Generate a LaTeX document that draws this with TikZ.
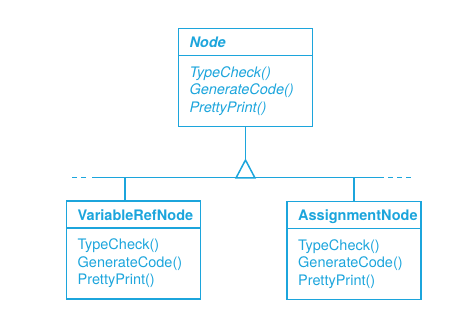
\documentclass[tikz,border=0pt]{standalone}
\usepackage{fontspec}
\setmainfont{TeX Gyre Heros}
\usetikzlibrary{positioning}
\definecolor{umlblue}{RGB}{28,165,220}

\begin{document}
\begin{tikzpicture}[x=1pt, y=-1pt, line width=1.5pt, umlblue,
        head/.style = {draw, anchor=north west, outer sep=0pt, inner xsep=11pt, text width=112pt,
            minimum height=27pt, text height=12pt, text depth=0pt, align=left,
            font=\fontsize{14.5}{17.5}\selectfont\bfseries},
        body/.style = {draw, outer sep=0pt, inner xsep=11pt, text width=112pt,
            minimum height=71pt, align=left, font=\fontsize{14.5}{17.5}\selectfont}]
    \useasboundingbox (0,0) rectangle (472,312);
    % abstract base class
    \node[head] (nodeHead) at (178.5,28.5) {\itshape Node};
    \node[body, below=0pt of nodeHead] (nodeOps) {\itshape TypeCheck()\\GenerateCode()\\PrettyPrint()};
    % subclasses
    \node[head] (varHead) at (66.7,201) {VariableRefNode};
    \node[body, below=0pt of varHead] (varOps) {TypeCheck()\\GenerateCode()\\PrettyPrint()};
    \node[head] (asgHead) at (287.2,201.5) {AssignmentNode};
    \node[body, below=0pt of asgHead] (asgOps) {TypeCheck()\\GenerateCode()\\PrettyPrint()};
    % inheritance triangle and bus
    \coordinate (apex) at ([yshift=-33.5pt]nodeOps.south);
    \coordinate (busL) at (92,177.5);
    \coordinate (busR) at (383.5,177.5);
    \coordinate (dropL) at (125,177.5);
    \draw (nodeOps.south) -- (apex);
    \draw (apex) -- ++(-9.5,18) -- ++(19,0) -- cycle;
    \draw (busL) -- (busR);
    \draw[dash pattern=on 5pt off 4pt] (86,177.5) coordinate (dashL) -- (72,177.5) coordinate (endL);
    \draw[dash pattern=on 5pt off 4pt] (388,177.5) coordinate (dashR) -- (411.5,177.5) coordinate (endR);
    \draw (dropL) -- (dropL |- varHead.north);
    \draw (asgHead.north |- busR) -- (asgHead.north);
\end{tikzpicture}
\end{document}
